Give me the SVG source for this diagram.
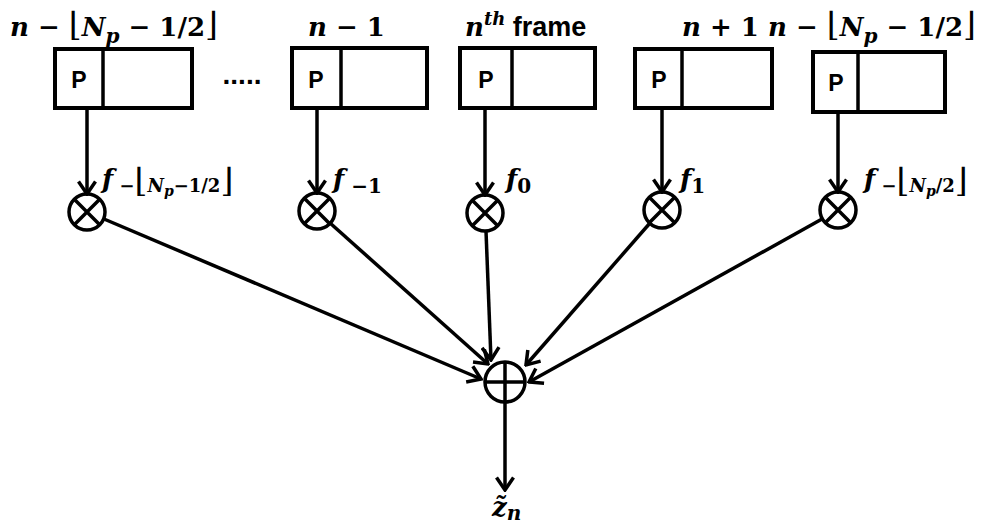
<svg xmlns="http://www.w3.org/2000/svg" width="987" height="529" viewBox="0 0 987 529">
<defs>
<style>
.bx{fill:#fff;stroke:#000;stroke-width:4}
.ln{fill:none;stroke:#000;stroke-width:3.5}
.arr{fill:none;stroke:#000;stroke-width:3.5;marker-end:url(#ah)}
.m{font-family:"DejaVu Serif","Liberation Serif",serif;font-weight:bold;font-size:26px;fill:#000}
.v{font-style:italic}
.s{font-family:"Liberation Sans","DejaVu Sans",sans-serif;font-weight:bold;fill:#000}
.br{font-weight:normal;font-size:33px}
</style>
<marker id="ah" viewBox="0 0 16 20" refX="14" refY="10" markerWidth="16" markerHeight="20" orient="auto" markerUnits="userSpaceOnUse">
<path d="M1.5,1.5 L14,10 L1.5,18.5" fill="none" stroke="#000" stroke-width="3.5"/>
</marker>
</defs>
<rect width="987" height="529" fill="#fff"/>

<g id="frame-a">
<rect class="bx" x="55" y="49" width="137" height="59"/>
<line class="ln" x1="103" y1="49" x2="103" y2="108"/>
<text class="s" x="79" y="88" font-size="23" text-anchor="middle">P</text>
<text class="m" x="10" y="36"><tspan class="v">n</tspan> − <tspan class="br">⌊</tspan><tspan class="v">N</tspan><tspan class="v" font-size="20" dy="7">p</tspan><tspan dy="-7"> − 1/2</tspan><tspan class="br">⌋</tspan></text>
</g>

<g id="dots">
<text class="s" x="242" y="84" font-size="28" text-anchor="middle">.....</text>
</g>

<g id="frame-b">
<rect class="bx" x="292" y="48" width="135" height="60"/>
<line class="ln" x1="341" y1="48" x2="341" y2="108"/>
<text class="s" x="316" y="88" font-size="23" text-anchor="middle">P</text>
<text class="m" x="308" y="36"><tspan class="v">n</tspan> − 1</text>
</g>

<g id="frame-c">
<rect class="bx" x="460" y="48" width="135" height="60"/>
<line class="ln" x1="512" y1="48" x2="512" y2="108"/>
<text class="s" x="486" y="88" font-size="23" text-anchor="middle">P</text>
<text class="m" x="465" y="36"><tspan class="v">n</tspan><tspan class="v" font-size="18" dy="-11">th</tspan><tspan class="s" font-size="27" font-style="normal" dy="11"> frame</tspan></text>
</g>

<g id="frame-d">
<rect class="bx" x="635" y="49" width="137" height="59"/>
<line class="ln" x1="682" y1="49" x2="682" y2="108"/>
<text class="s" x="659" y="88" font-size="23" text-anchor="middle">P</text>
<text class="m" x="682" y="36"><tspan class="v">n</tspan> + 1</text>
</g>

<g id="frame-e">
<rect class="bx" x="813" y="52" width="132" height="60"/>
<line class="ln" x1="858" y1="52" x2="858" y2="112"/>
<text class="s" x="836" y="91" font-size="23" text-anchor="middle">P</text>
<text class="m" x="768" y="36"><tspan class="v">n</tspan> − <tspan class="br">⌊</tspan><tspan class="v">N</tspan><tspan class="v" font-size="20" dy="7">p</tspan><tspan dy="-7"> − 1/2</tspan><tspan class="br">⌋</tspan></text>
</g>

<g id="mul-a">
<circle class="ln" cx="87" cy="212" r="18"/>
<path class="ln" d="M74.3,199.3 L99.7,224.7 M99.7,199.3 L74.3,224.7"/>
<text class="m" x="102" y="188" font-size="30"><tspan class="v">f</tspan><tspan font-size="18" dy="4"> −</tspan><tspan class="br" font-size="26">⌊</tspan><tspan class="v" font-size="18">N</tspan><tspan class="v" font-size="14" dy="4">p</tspan><tspan font-size="18" dy="-4">−1/2</tspan><tspan class="br" font-size="26">⌋</tspan></text>
</g>

<g id="mul-b">
<circle class="ln" cx="317" cy="211" r="18"/>
<path class="ln" d="M304.3,198.3 L329.7,223.7 M329.7,198.3 L304.3,223.7"/>
<text class="m" x="333" y="188" font-size="30"><tspan class="v">f</tspan><tspan font-size="20" dy="5"> −1</tspan></text>
</g>

<g id="mul-c">
<circle class="ln" cx="485" cy="213" r="18"/>
<path class="ln" d="M472.3,200.3 L497.7,225.7 M497.7,200.3 L472.3,225.7"/>
<text class="m" x="506" y="188" font-size="30"><tspan class="v">f</tspan><tspan font-size="20" dy="5">0</tspan></text>
</g>

<g id="mul-d">
<circle class="ln" cx="662" cy="210" r="18"/>
<path class="ln" d="M649.3,197.3 L674.7,222.7 M674.7,197.3 L649.3,222.7"/>
<text class="m" x="680" y="188" font-size="30"><tspan class="v">f</tspan><tspan font-size="20" dy="5">1</tspan></text>
</g>

<g id="mul-e">
<circle class="ln" cx="838" cy="210" r="18"/>
<path class="ln" d="M825.3,197.3 L850.7,222.7 M850.7,197.3 L825.3,222.7"/>
<text class="m" x="864" y="188" font-size="30"><tspan class="v">f</tspan><tspan font-size="18" dy="4"> −</tspan><tspan class="br" font-size="26">⌊</tspan><tspan class="v" font-size="18">N</tspan><tspan class="v" font-size="14" dy="4">p</tspan><tspan font-size="18" dy="-4">/2</tspan><tspan class="br" font-size="26">⌋</tspan></text>
</g>

<g id="sum">
<circle class="ln" cx="505" cy="382" r="20"/>
<path class="ln" d="M505,362 L505,402 M485,382 L525,382"/>
</g>

<g id="output">
<text class="m" x="492" y="516" font-size="26"><tspan class="v">z̃</tspan><tspan class="v" font-size="20" dy="4">n</tspan></text>
</g>

<g id="connectors">
<line class="arr" x1="87" y1="108" x2="87" y2="194"/>
<line class="arr" x1="317" y1="108" x2="317" y2="193"/>
<line class="arr" x1="485" y1="108" x2="485" y2="195"/>
<line class="arr" x1="662" y1="108" x2="662" y2="192"/>
<line class="arr" x1="838" y1="112" x2="838" y2="192"/>
<line class="arr" x1="104" y1="219" x2="481" y2="379"/>
<line class="arr" x1="330" y1="223" x2="488" y2="364"/>
<line class="arr" x1="486" y1="231" x2="491" y2="360"/>
<line class="arr" x1="650" y1="223" x2="526" y2="365"/>
<line class="arr" x1="822" y1="219" x2="529" y2="382"/>
<line class="arr" x1="505" y1="402" x2="505" y2="490"/>
</g>
</svg>
